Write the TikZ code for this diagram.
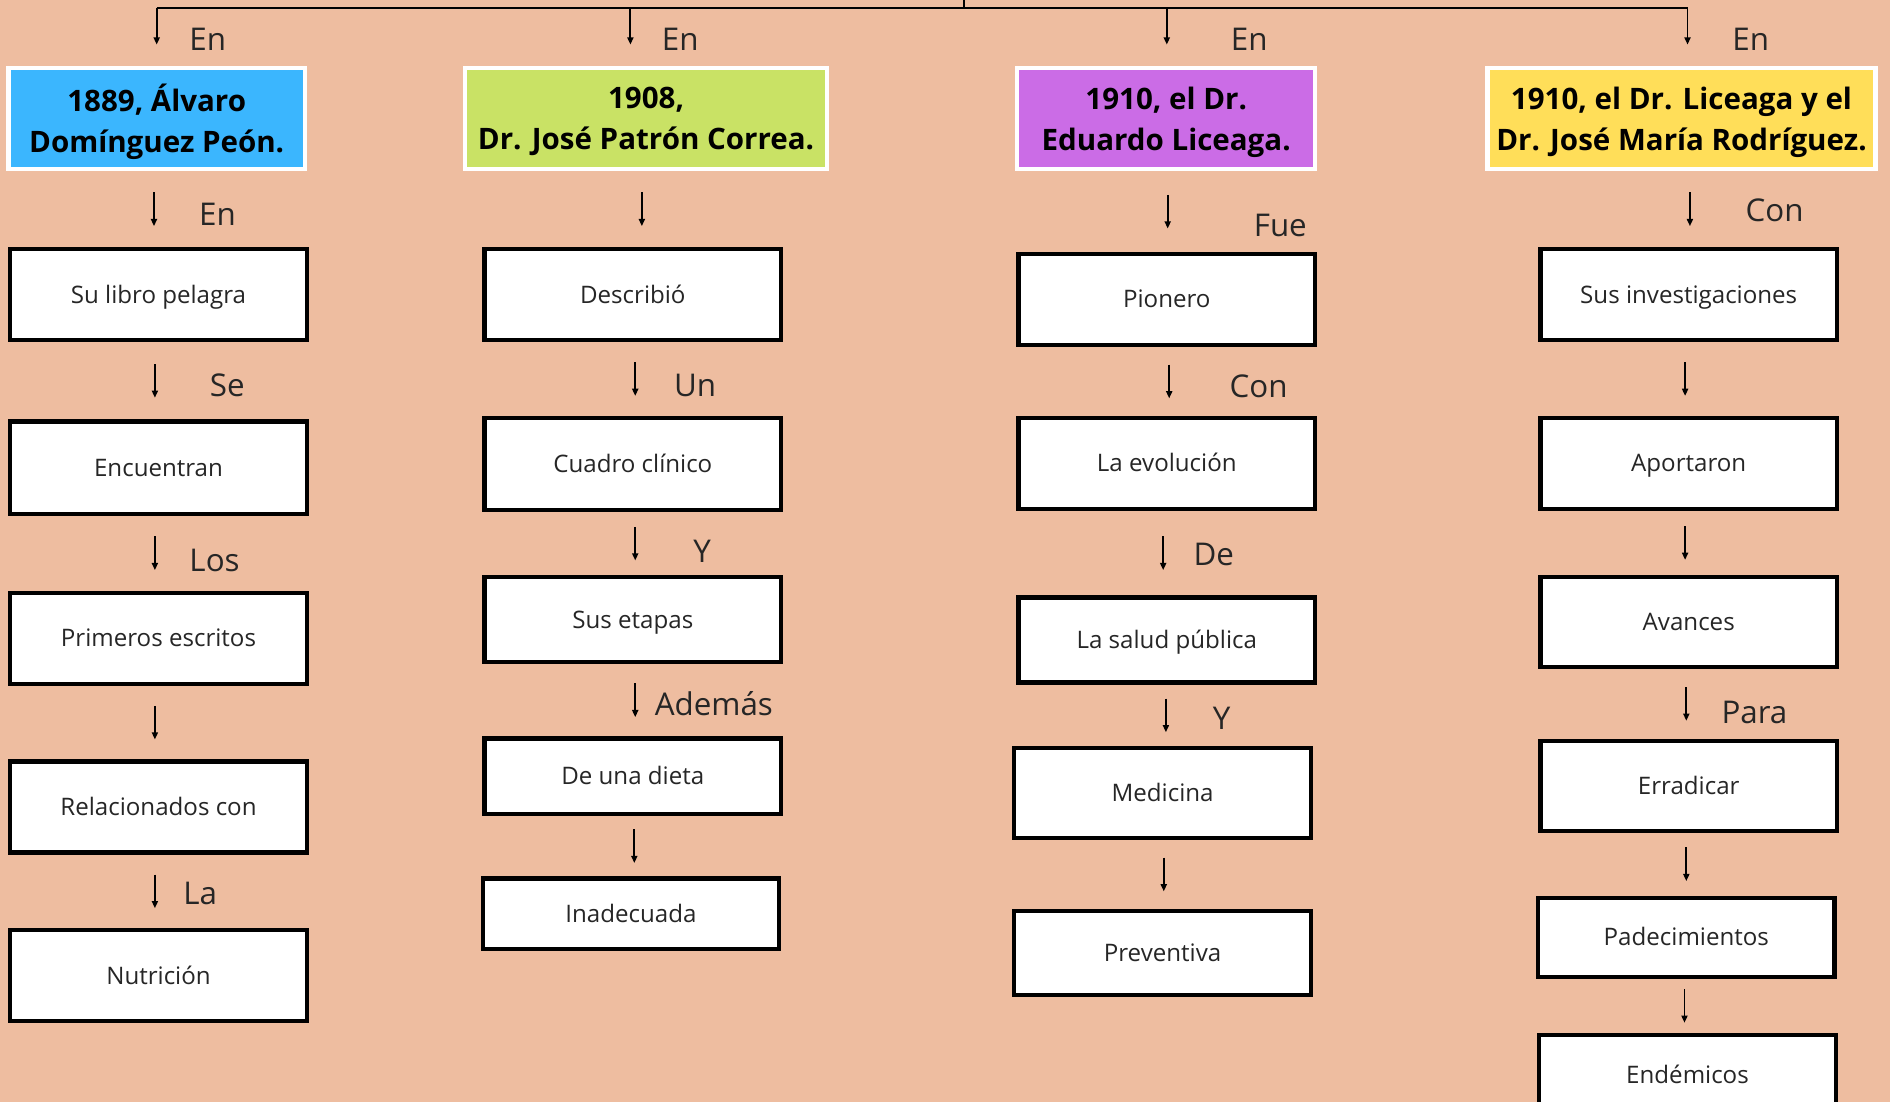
\documentclass[tikz,border=0pt]{standalone}
\usepackage{fontspec}
\setmainfont{Open Sans}
\usetikzlibrary{arrows.meta,calc}

\definecolor{fondo}{HTML}{EEBDA0}
\definecolor{azul}{HTML}{3BB6FE}
\definecolor{verde}{HTML}{C9E265}
\definecolor{morado}{HTML}{CB6CE6}
\definecolor{amarillo}{HTML}{FFDE59}

\tikzset{
  caja/.style={draw=black,fill=white,line width=3.5pt,minimum width=246pt,inner sep=0pt,
    text height=14pt,text depth=0pt,text=black!85,font=\fontsize{20}{24}\selectfont},
  titulo/.style={draw=white,line width=3.5pt,minimum height=84pt,inner sep=0pt,align=center,
    text depth=0pt,font=\bfseries\fontsize{24.5}{34}\selectfont},
  etiq/.style={anchor=base west,inner sep=0pt,text=black!85,font=\fontsize{26}{30}\selectfont},
  flecha/.style={line width=1.6pt,-{Triangle[length=6pt,width=5pt]}},
  raya/.style={line width=1.6pt}
}

\begin{document}
\begin{tikzpicture}[x=1pt,y=-1pt]
\clip (0,0) rectangle (1568,914);
\fill[fondo] (0,0) rectangle (1568,914);

% encabezados
\node[titulo,fill=azul,minimum width=246pt] (h1) at (130,98.5) {1889, Álvaro\\Domínguez Peón.};
\node[titulo,fill=verde,minimum width=300pt] (h2) at (536,98.5) {1908,\\Dr. José Patrón Correa.};
\node[titulo,fill=morado,minimum width=247pt] (h3) at (967.5,98.5) {1910, el Dr.\\Eduardo Liceaga.};
\node[titulo,fill=amarillo,minimum width=322pt] (h4) at (1395,98.5) {1910, el Dr. Liceaga y el\\Dr. José María Rodríguez.};

% llave superior
\coordinate (raiz) at (800,0);
\coordinate (t1) at (130,7);
\coordinate (t2) at (523,7);
\coordinate (t3) at (968,7);
\coordinate (t4) at (1400,7);
\draw[raya] (raiz) -- (raiz |- t1);
\draw[raya] (t1) -- (t4);
\draw[flecha] (t1) -- ++(0,-30pt);
\draw[flecha] (t2) -- ++(0,-30pt);
\draw[flecha] (t3) -- ++(0,-30pt);
\draw[flecha] (t4) -- ++(0,-30pt);
\node[etiq] (e1) at (157,42) {En};
\node[etiq] (e2) at (549,42) {En};
\node[etiq] (e3) at (1021,42) {En};
\node[etiq] (e4) at (1437,42) {En};

% columna 1
\node[caja,minimum height=75.5pt] (s1) at (131.5,244.5) {Su libro pelagra};
\node[caja,minimum height=76.5pt] (s2) at (131.5,388) {Encuentran};
\node[caja,minimum height=75.5pt] (s3) at (131.5,529.5) {Primeros escritos};
\node[caja,minimum height=75.5pt] (s4) at (131.5,669.5) {Relacionados con};
\node[caja,minimum height=75.5pt] (s5) at (131.5,809.5) {Nutrición};
\draw[flecha] ($(h1.south)!.5!(s1.north)+(-3pt,14pt)$) -- ++(0,-28pt);
\draw[flecha] ($(s1.south)!.5!(s2.north)+(-3pt,14pt)$) -- ++(0,-28pt);
\draw[flecha] ($(s2.south)!.5!(s3.north)+(-3pt,14pt)$) -- ++(0,-28pt);
\draw[flecha] ($(s3.south)!.5!(s4.north)+(-3pt,14pt)$) -- ++(0,-28pt);
\draw[flecha] ($(s4.south)!.5!(s5.north)+(-3pt,14pt)$) -- ++(0,-28pt);
\node[etiq] (c1) at (165,187) {En};
\node[etiq] (c2) at (174,329) {Se};
\node[etiq] (c3) at (157,474) {Los};
\node[etiq] (c4) at (152,750) {La};

% columna 2
\node[caja,minimum height=75.5pt] (d1) at (525,244.5) {Describió};
\node[caja,minimum height=76.5pt] (d2) at (525,385) {Cuadro clínico};
\node[caja,minimum height=70.5pt] (d3) at (525,514) {Sus etapas};
\node[caja,minimum height=62.5pt] (d4) at (525,644) {De una dieta};
\node[caja,minimum height=58.5pt] (d5) at (523.5,758) {Inadecuada};
\draw[flecha] ($(h2.south)!.5!(d1.north)+(2pt,14pt)$) -- ++(0,-28pt);
\draw[flecha] ($(d1.south)!.5!(d2.north)+(2pt,14pt)$) -- ++(0,-28pt);
\draw[flecha] ($(d2.south)!.5!(d3.north)+(2pt,14pt)$) -- ++(0,-28pt);
\draw[flecha] ($(d3.south)!.5!(d4.north)+(2pt,14pt)$) -- ++(0,-28pt);
\draw[flecha] ($(d4.south)!.5!(d5.north)+(2pt,14pt)$) -- ++(0,-28pt);
\node[etiq] (c5) at (559,329) {Un};
\node[etiq] (c6) at (575,467) {Y};
\node[etiq] (c7) at (543,594) {Además};

% columna 3
\node[caja,minimum height=75.5pt] (p1) at (968,248.5) {Pionero};
\node[caja,minimum height=75.5pt] (p2) at (968,384.5) {La evolución};
\node[caja,minimum height=70.5pt] (p3) at (968,531) {La salud pública};
\node[caja,minimum height=74.5pt] (p4) at (964.5,658) {Medicina};
\node[caja,minimum height=69.5pt] (p5) at (964.5,790.5) {Preventiva};
\draw[flecha] ($(h3.south)!.5!(p1.north)+(1pt,14pt)$) -- ++(0,-28pt);
\draw[flecha] ($(p1.south)!.5!(p2.north)+(2pt,14pt)$) -- ++(0,-28pt);
\draw[flecha] ($(p2.south)!.5!(p3.north)+(-3pt,14pt)$) -- ++(0,-28pt);
\draw[flecha] ($(p3.south)!.5!(p4.north)+(1pt,14pt)$) -- ++(0,-28pt);
\draw[flecha] ($(p4.south)!.5!(p5.north)+(1pt,14pt)$) -- ++(0,-28pt);
\node[etiq] (c8) at (1040,196) {Fue};
\node[etiq] (c9) at (1020,330) {Con};
\node[etiq] (c10) at (990,469) {De};
\node[etiq] (c11) at (1006,605) {Y};

% columna 4
\node[caja,minimum height=75.5pt] (r1) at (1401,244.5) {Sus investigaciones};
\node[caja,minimum height=75.5pt] (r2) at (1401,384.5) {Aportaron};
\node[caja,minimum height=74.5pt] (r3) at (1401,516) {Avances};
\node[caja,minimum height=74.5pt] (r4) at (1401,652) {Erradicar};
\node[caja,minimum height=65.5pt] (r5) at (1399,777.5) {Padecimientos};
\node[caja,minimum height=66.5pt] (r6) at (1400,892) {Endémicos};
\draw[flecha] ($(h4.south)!.5!(r1.north)+(4pt,14pt)$) -- ++(0,-28pt);
\draw[flecha] ($(r1.south)!.5!(r2.north)+(-3pt,14pt)$) -- ++(0,-28pt);
\draw[flecha] ($(r2.south)!.5!(r3.north)+(-3pt,14pt)$) -- ++(0,-28pt);
\draw[flecha] ($(r3.south)!.5!(r4.north)+(-2pt,14pt)$) -- ++(0,-28pt);
\draw[flecha] ($(r4.south)!.5!(r5.north)+(-1pt,14pt)$) -- ++(0,-28pt);
\draw[flecha] ($(r5.south)!.5!(r6.north)+(-2pt,14pt)$) -- ++(0,-28pt);
\node[etiq] (c12) at (1448,184) {Con};
\node[etiq] (c13) at (1428,600) {Para};
\end{tikzpicture}
\end{document}
